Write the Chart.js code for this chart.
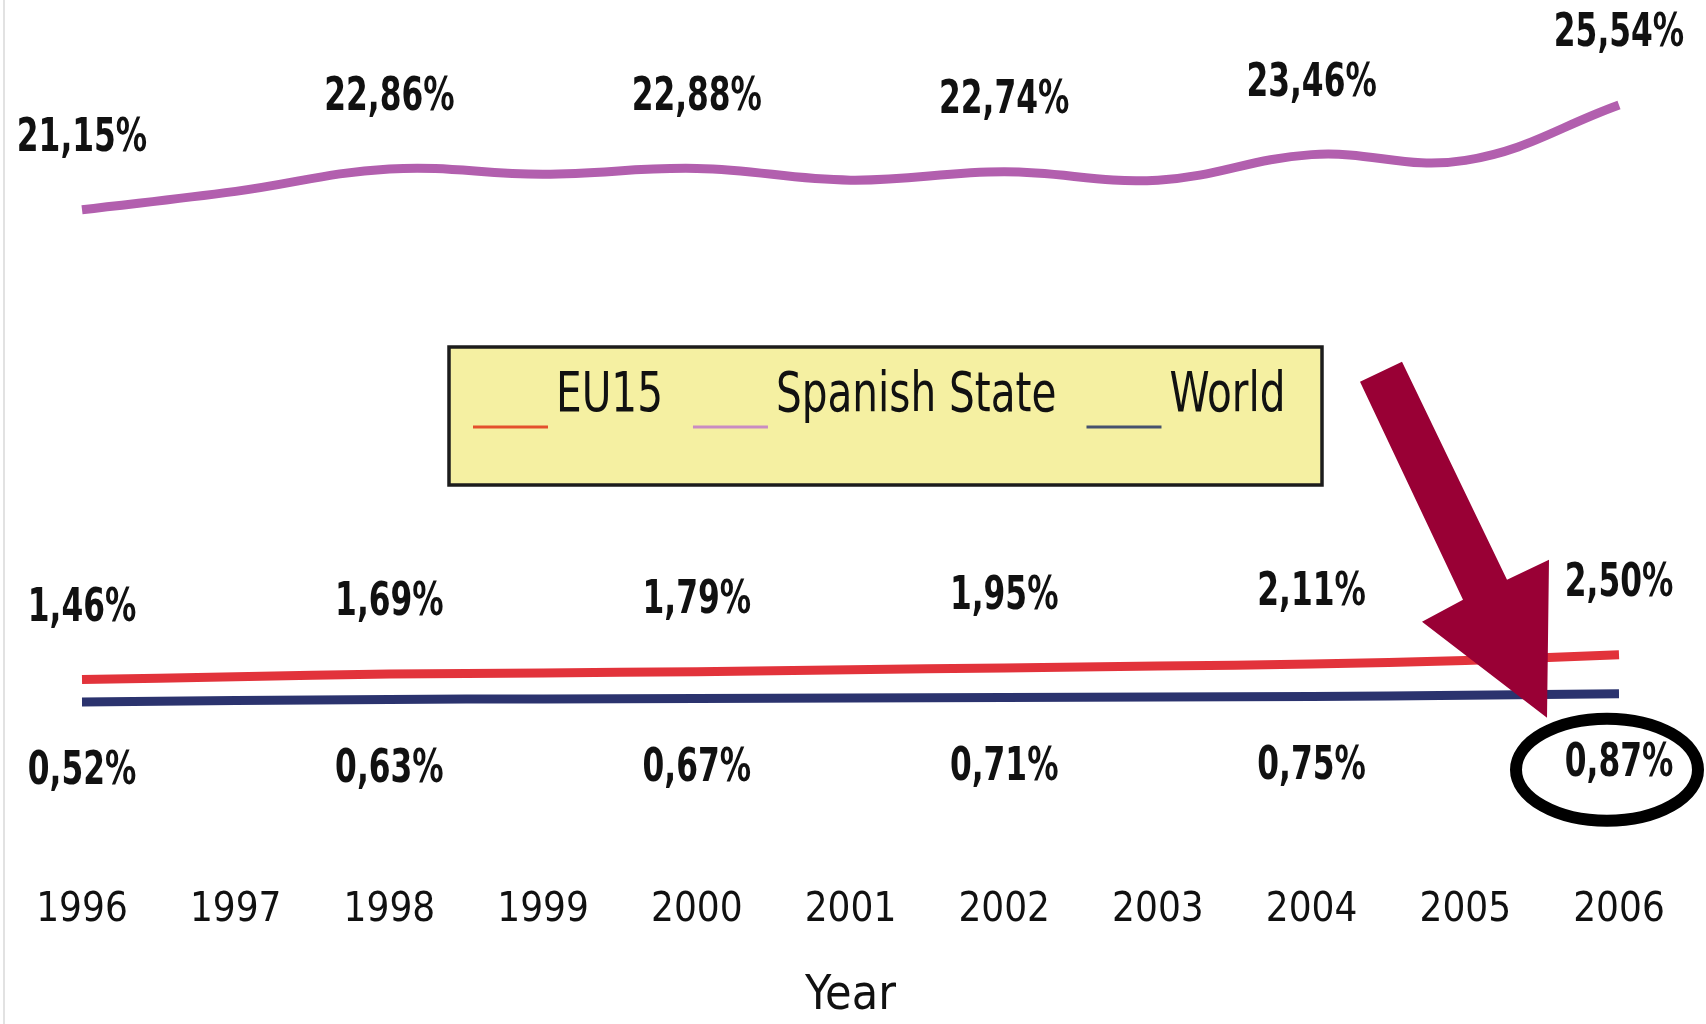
<!DOCTYPE html>
<html>
<head>
<meta charset="utf-8">
<script src="https://cdn.jsdelivr.net/npm/chart.js@4.4.1/dist/chart.umd.min.js"></script>
<style>
  html, body { margin: 0; padding: 0; background: #fff; }
</style>
</head>
<body>
<canvas id="chart" width="1706" height="1024"></canvas>
<script>
// data (odd years estimated from the line shape)
const years = ['1996', '1997', '1998', '1999', '2000', '2001', '2002', '2003', '2004', '2005', '2006'];
const labelYears = ['1996', '1998', '2000', '2002', '2004', '2006'];
const eu15 = [1.46, 1.58, 1.69, 1.74, 1.79, 1.87, 1.95, 2.03, 2.11, 2.26, 2.50];
const spain = [21.15, 21.92, 22.86, 22.64, 22.88, 22.39, 22.74, 22.39, 23.46, 23.22, 25.54];
const world = [0.52, 0.58, 0.63, 0.65, 0.67, 0.69, 0.71, 0.73, 0.75, 0.80, 0.87];
const seriesNames = ['EU15', 'Spanish State', 'World'];
const lineColors = ['#e2333b', '#b25fae', '#2b336e'];
const legendColors = ['#e4502c', '#c98cc2', '#46526e'];

const COND = "'DejaVu Sans Condensed', 'Liberation Sans', sans-serif";

function fmt(v) {
  return v.toFixed(2).replace('.', ',') + '%';
}

// narrow look: squeeze the text horizontally
function squeezeText(ctx, text, x, y, sx) {
  ctx.save();
  ctx.translate(x, y);
  ctx.scale(sx, 1);
  ctx.fillText(text, 0, 0);
  ctx.restore();
}

// value labels: EU15 and Spain above the line, World below
const valueLabels = {
  id: 'valueLabels',
  afterDatasetsDraw(chart) {
    const ctx = chart.ctx;
    ctx.save();
    ctx.font = 'bold 47px ' + COND;
    ctx.fillStyle = '#111';
    ctx.textAlign = 'center';
    ctx.textBaseline = 'middle';
    chart.data.datasets.forEach((ds, i) => {
      const meta = chart.getDatasetMeta(i);
      const dy = ds.label === 'World' ? 70 : -71;
      meta.data.forEach((pt, j) => {
        if (!labelYears.includes(years[j])) return;
        squeezeText(ctx, fmt(ds.data[j]), pt.x, pt.y + dy, 0.74);
      });
    });
    ctx.restore();
  }
};

// yellow legend box in the middle of the plot
const boxLegend = {
  id: 'boxLegend',
  afterDatasetsDraw(chart) {
    const ctx = chart.ctx;
    const sx = 0.82;
    ctx.save();
    ctx.fillStyle = '#f5f0a2';
    ctx.fillRect(449, 347, 873, 138);
    ctx.lineWidth = 3.5;
    ctx.strokeStyle = '#1c1c1c';
    ctx.strokeRect(449, 347, 873, 138);

    ctx.font = '55px ' + COND;
    ctx.textBaseline = 'middle';
    ctx.textAlign = 'left';
    let x = 473;
    chart.data.datasets.forEach((ds, i) => {
      ctx.strokeStyle = legendColors[i];
      ctx.lineWidth = 3;
      ctx.beginPath();
      ctx.moveTo(x, 427);
      ctx.lineTo(x + 75, 427);
      ctx.stroke();
      x += 75 + 8;
      ctx.fillStyle = '#111';
      squeezeText(ctx, ds.label, x, 397, sx);
      x += ctx.measureText(ds.label).width * sx + 30;
    });
    ctx.restore();
  }
};

// arrow + circle pointing at the last World value
const highlight = {
  id: 'highlight',
  afterDraw(chart) {
    const ctx = chart.ctx;
    const meta = chart.getDatasetMeta(2);
    const last = meta.data[meta.data.length - 1];
    const px = last.x, py = last.y;
    ctx.save();
    ctx.fillStyle = '#990035';
    ctx.beginPath();
    const pts = [[-259, -312], [-217, -332], [-112, -114], [-70, -134], [-72, 24], [-197, -72], [-156, -94]];
    pts.forEach((p, k) => k ? ctx.lineTo(px + p[0], py + p[1]) : ctx.moveTo(px + p[0], py + p[1]));
    ctx.closePath();
    ctx.fill();

    ctx.lineWidth = 12;
    ctx.strokeStyle = '#000';
    ctx.beginPath();
    ctx.ellipse(px - 12, py + 76, 91, 51, 0, 0, Math.PI * 2);
    ctx.stroke();
    ctx.restore();
  }
};

const page = {
  id: 'page',
  beforeDraw(chart) {
    const ctx = chart.ctx;
    ctx.save();
    ctx.fillStyle = '#fff';
    ctx.fillRect(0, 0, chart.width, chart.height);
    ctx.fillStyle = '#e2e2e2';
    ctx.fillRect(3, 0, 2, chart.height);
    ctx.restore();
  }
};

const data = {
  labels: years,
  datasets: [
    { label: seriesNames[0], data: eu15, borderColor: lineColors[0] },
    { label: seriesNames[1], data: spain, borderColor: lineColors[1] },
    { label: seriesNames[2], data: world, borderColor: lineColors[2] }
  ]
};

new Chart(document.getElementById('chart'), {
  type: 'line',
  data: data,
  options: {
    responsive: false,
    animation: false,
    devicePixelRatio: 1,
    layout: { padding: { left: 82, right: 87, top: 10.5, bottom: 0 } },
    elements: {
      line: { borderWidth: 9, tension: 0.4, borderCapStyle: 'butt', fill: false },
      point: { radius: 0, hoverRadius: 0 }
    },
    plugins: {
      legend: { display: false },
      tooltip: { enabled: false }
    },
    scales: {
      x: {
        offset: false,
        grid: { display: false, drawTicks: false },
        border: { display: false },
        ticks: {
          autoSkip: false,
          maxRotation: 0,
          padding: 29.4,
          color: '#111',
          font: { family: COND, size: 40, lineHeight: 1.2 }
        },
        title: {
          display: true,
          text: 'Year',
          color: '#111',
          padding: { top: 8.6, bottom: 3 },
          font: { family: COND, size: 48, lineHeight: 1 }
        }
      },
      y: {
        display: false,
        min: -6,
        max: 29.5
      }
    }
  },
  plugins: [page, valueLabels, boxLegend, highlight]
});
</script>
</body>
</html>
